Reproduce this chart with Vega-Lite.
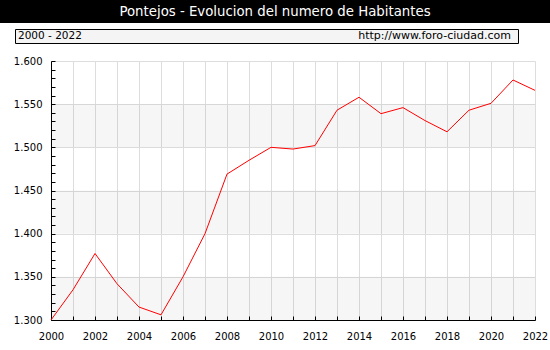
{
  "$schema": "https://vega.github.io/schema/vega-lite/v6.json",
  "background": "white",
  "padding": {"left": 0, "top": 0, "right": 0, "bottom": 11},
  "spacing": 12,
  "config": {
    "font": "DejaVu Sans",
    "view": {"stroke": null},
    "axis": {"labelFont": "DejaVu Sans", "labelFontSize": 10, "labelColor": "black", "domainColor": "black", "tickColor": "black", "gridColor": "#dddddd", "labelFlush": false, "labelOverlap": false, "labelBound": false}
  },
  "vconcat": [
    {
      "spacing": 5,
      "vconcat": [
        {
          "width": 550,
          "height": 23,
          "view": {"fill": "black", "stroke": null},
          "data": {"values": [{"titulo": "Pontejos - Evolucion del numero de Habitantes"}]},
          "mark": {"type": "text", "color": "white", "font": "DejaVu Sans", "fontSize": 13.3, "baseline": "middle", "align": "center"},
          "encoding": {"text": {"field": "titulo"}}
        },
        {
          "spacing": 0,
          "hconcat": [
            {"width": 1, "height": 1, "data": {"values": []}, "mark": "point"},
            {
              "width": 503,
              "height": 14,
              "view": {"fill": "#f4f4f4", "stroke": "black", "strokeWidth": 1},
              "data": {"values": [
                {"texto": "2000 - 2022", "lado": "izquierda", "fila": "caja"},
                {"texto": "http://www.foro-ciudad.com", "lado": "derecha", "fila": "caja"}
              ]},
              "encoding": {
                "x": {"field": "lado", "type": "nominal", "scale": {"type": "point", "domain": ["izquierda", "derecha"], "padding": 0}, "axis": null},
                "y": {"field": "fila", "type": "nominal", "scale": {"type": "point"}, "axis": {"title": null, "labels": false, "ticks": false, "domain": false, "grid": false, "minExtent": 13, "maxExtent": 13}},
                "text": {"field": "texto"}
              },
              "layer": [
                {"transform": [{"filter": "datum.lado === 'izquierda'"}], "mark": {"type": "text", "align": "left", "dx": 3, "fontSize": 10.5, "baseline": "middle", "color": "black"}},
                {"transform": [{"filter": "datum.lado === 'derecha'"}], "mark": {"type": "text", "align": "right", "dx": -7, "fontSize": 11, "baseline": "middle", "color": "black"}}
              ]
            }
          ]
        }
      ]
    },
    {
      "spacing": 0,
      "hconcat": [
        {"width": 1, "height": 1, "data": {"values": []}, "mark": "point"},
        {
          "width": 484,
          "height": 259,
          "encoding": {
            "y": {
              "field": "valor", "type": "quantitative",
              "scale": {"domain": [1300, 1600], "nice": false, "zero": false},
              "axis": {
                "title": null,
                "values": [1300, 1310, 1320, 1330, 1340, 1350, 1360, 1370, 1380, 1390, 1400, 1410, 1420, 1430, 1440, 1450, 1460, 1470, 1480, 1490, 1500, 1510, 1520, 1530, 1540, 1550, 1560, 1570, 1580, 1590, 1600],
                "format": ",d",
                "labelExpr": "datum.value % 50 === 0 ? replace(datum.label, ',', '.') : ''",
                "labelOverlap": false,
                "labelFlush": false,
                "labelBound": false,
                "tickSize": -4,
                "labelPadding": 13,
                "grid": true,
                "gridOpacity": {"condition": {"test": "datum.value % 50 === 0", "value": 1}, "value": 0},
                "minExtent": 50,
                "maxExtent": 50
              }
            }
          },
          "layer": [
            {
              "data": {"values": [
                {"valor": 1300, "hasta": 1350},
                {"valor": 1400, "hasta": 1450},
                {"valor": 1500, "hasta": 1550}
              ]},
              "mark": {"type": "rect", "color": "black", "opacity": 0.035},
              "encoding": {"y2": {"field": "hasta"}}
            },
            {
              "data": {"values": [
                {"anio": 2000, "valor": 1300},
                {"anio": 2001, "valor": 1335},
                {"anio": 2002, "valor": 1377},
                {"anio": 2003, "valor": 1342},
                {"anio": 2004, "valor": 1315},
                {"anio": 2005, "valor": 1306},
                {"anio": 2006, "valor": 1350},
                {"anio": 2007, "valor": 1400},
                {"anio": 2008, "valor": 1469},
                {"anio": 2009, "valor": 1485},
                {"anio": 2010, "valor": 1500},
                {"anio": 2011, "valor": 1498},
                {"anio": 2012, "valor": 1502},
                {"anio": 2013, "valor": 1543},
                {"anio": 2014, "valor": 1558},
                {"anio": 2015, "valor": 1539},
                {"anio": 2016, "valor": 1546},
                {"anio": 2017, "valor": 1531},
                {"anio": 2018, "valor": 1518},
                {"anio": 2019, "valor": 1543},
                {"anio": 2020, "valor": 1551},
                {"anio": 2021, "valor": 1578},
                {"anio": 2022, "valor": 1566}
              ]},
              "mark": {"type": "line", "color": "#ff0000", "strokeWidth": 1},
              "encoding": {
                "x": {
                  "field": "anio", "type": "quantitative",
                  "scale": {"domain": [2000, 2022], "nice": false, "zero": false},
                  "axis": {
                    "title": null,
                    "values": [2000, 2001, 2002, 2003, 2004, 2005, 2006, 2007, 2008, 2009, 2010, 2011, 2012, 2013, 2014, 2015, 2016, 2017, 2018, 2019, 2020, 2021, 2022],
                    "format": "d",
                    "labelExpr": "datum.value % 2 === 0 ? datum.label : ''",
                    "labelOverlap": false,
                    "labelFlush": false,
                    "labelBound": false,
                    "tickSize": -4,
                    "labelPadding": 15,
                    "grid": true
                  }
                }
              }
            }
          ]
        }
      ]
    }
  ]
}
